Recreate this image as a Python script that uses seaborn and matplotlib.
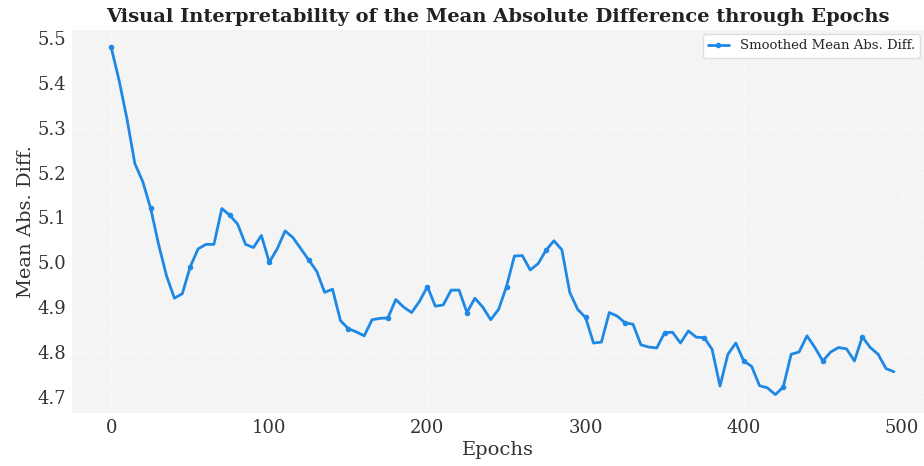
import numpy as np
import pandas as pd
import matplotlib
matplotlib.use("Agg")
import matplotlib.pyplot as plt
import seaborn as sns

epochs = list(range(0, 500, 5))
mean_abs_diff = [
    5.480, 5.406, 5.320, 5.220, 5.180, 5.120, 5.040, 4.970, 4.920, 4.930,
    4.990, 5.030, 5.040, 5.040, 5.120, 5.105, 5.085, 5.040, 5.033, 5.060,
    5.000, 5.030, 5.070, 5.055, 5.030, 5.005, 4.980, 4.933, 4.940, 4.870,
    4.852, 4.845, 4.836, 4.872, 4.875, 4.876, 4.917, 4.900, 4.888, 4.913,
    4.946, 4.902, 4.905, 4.938, 4.938, 4.888, 4.920, 4.900, 4.872, 4.895,
    4.946, 5.014, 5.015, 4.983, 4.997, 5.027, 5.048, 5.028, 4.933, 4.895,
    4.877, 4.820, 4.822, 4.888, 4.880, 4.865, 4.862, 4.816, 4.811, 4.809,
    4.843, 4.844, 4.820, 4.847, 4.833, 4.832, 4.806, 4.724, 4.795, 4.820,
    4.780, 4.768, 4.725, 4.720, 4.705, 4.722, 4.795, 4.800, 4.836, 4.810,
    4.780, 4.800, 4.810, 4.807, 4.780, 4.834, 4.810, 4.795, 4.763, 4.756,
]
series_label = "Smoothed Mean Abs. Diff."
title = "Visual Interpretability of the Mean Absolute Difference through Epochs"
x_label = "Epochs"
y_label = "Mean Abs. Diff."

df = pd.DataFrame({"Epochs": epochs, "Value": mean_abs_diff})

sns.set_theme(style="whitegrid")
plt.rcParams["font.family"] = ["DejaVu Serif"]

fig = plt.figure(figsize=(9.24, 4.66), dpi=100)
ax = fig.add_axes([72 / 924, 1 - 413 / 466, 852 / 924, 383 / 466])
ax.set_facecolor("#f4f4f4")

sns.lineplot(data=df, x="Epochs", y="Value", ax=ax, color="#1e88e5",
             linewidth=2, marker="o", markersize=4, markeredgewidth=0,
             markevery=5, label=series_label)

ax.grid(True, color="white", linestyle="--", linewidth=0.8, alpha=0.6)
for s in ax.spines.values():
    s.set_visible(False)

ax.set_xlim(-24.75, 514.0)
ax.set_ylim(4.664, 5.518)
ax.set_xticks([0, 100, 200, 300, 400, 500])
ax.set_yticks([4.7, 4.8, 4.9, 5.0, 5.1, 5.2, 5.3, 5.4, 5.5])
ax.tick_params(axis="both", labelsize=13, colors="#333333", length=0, pad=4)

ax.set_title(title, fontsize=14, fontweight="bold", color="#222222", pad=6)
ax.set_xlabel(x_label, fontsize=14, color="#333333", labelpad=3)
ax.set_ylabel(y_label, fontsize=14, color="#333333", labelpad=2)

leg = ax.legend(loc="upper right", fontsize=9.5, frameon=True, facecolor="white",
                edgecolor="#dddddd", framealpha=1, handlelength=1.6,
                borderaxespad=0.3)

fig.savefig("out.png", dpi=100)
